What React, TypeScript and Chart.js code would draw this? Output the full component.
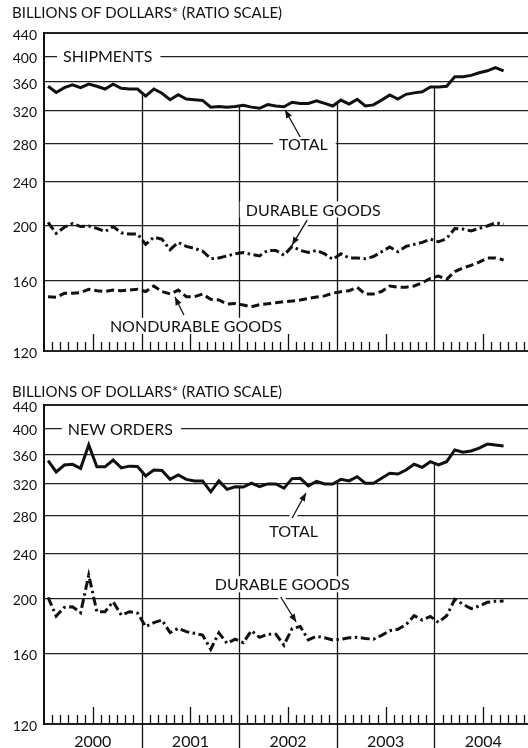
import React, { useEffect, useRef } from "react";
import { Chart, registerables } from "chart.js";

Chart.register(...registerables);

const FONT = "Lato, 'DejaVu Sans', sans-serif";
const INK = "#111";

const YEARS = ["2000", "2001", "2002", "2003", "2004"];
const Y_TICKS = [120, 160, 200, 240, 280, 320, 360, 400, 440];
const Y_MIN = 120;
const Y_MAX = 440;
const X_MAX = 59.5; // months since Jan 2000 shown on the axis
const TITLE = "BILLIONS OF DOLLARS* (RATIO SCALE)";

// Monthly values, Jan 2000 - Sep 2004 (billions of dollars)
const shipTotal = [
  354, 345, 352, 356, 352, 357, 354, 350, 357, 351, 350, 350,
  340, 350, 344, 335, 342, 336, 335, 334, 325, 326, 325, 326,
  327.5, 325, 323.5, 328.5, 326.5, 325.5, 331.5, 330, 330, 333.5, 330, 326.5,
  334.5, 329, 335.5, 326.5, 328, 334.5, 341.5, 336, 342.5, 344.5, 346, 353,
  353, 354, 368, 368, 370, 374, 377, 382, 377,
];
const shipDurable = [
  203, 194, 199, 202, 199.5, 200, 198, 195.5, 199.5, 194.5, 193.5, 193.5,
  185.5, 191, 189.5, 181.5, 187, 184, 182.5, 180.5, 175, 175.5, 177, 178.5,
  179.5, 178, 177, 181, 181, 177.5, 184, 181, 179.5, 181, 178.5, 174.5,
  178.5, 175.5, 175.5, 175, 176.5, 180, 183.5, 180, 184, 185.5, 187, 189.5,
  187.5, 190, 198, 197.5, 196, 198, 200, 202.5, 201.5,
];
const shipNondurable = [
  149.8, 149.4, 151.9, 152, 152.3, 154.4, 153.5, 153, 153.9, 153.5, 153.9, 154.4,
  153, 156.5, 153, 151.5, 153.9, 149.8, 149.8, 151.4, 148.2, 147.8, 145.4, 145.7,
  144.8, 143.8, 145, 145.5, 146.2, 146.8, 147.2, 147.8, 148.7, 149.6, 150.3, 152,
  152.9, 153.5, 155.7, 151.4, 151.5, 153, 156.5, 155.7, 155.7, 156.5, 158.5, 161.5,
  163, 160.8, 166, 168.5, 170.3, 172.5, 175.5, 175.5, 174,
];
const ordersTotal = [
  350.7, 335, 344.6, 345.6, 340, 374, 342, 342, 351.7, 340.5, 343, 342.5,
  329.5, 337.6, 337, 325, 330.8, 325, 323, 323, 309, 323, 312, 315.4,
  315, 320, 315.4, 319, 319, 313.5, 326, 326.4, 316.5, 322.5, 319, 319,
  325, 323, 328.6, 320, 320, 326.4, 333.2, 332.2, 337.6, 345.6, 341.4, 349.3,
  344.6, 349.3, 366.3, 363, 364.8, 369, 375.3, 374, 372.3,
];
const ordersDurable = [
  201, 186.3, 193, 193.5, 188.8, 220, 189.6, 189.6, 197.5, 187, 189.6, 188.5,
  178.4, 181.3, 183.3, 174.1, 177.2, 174.8, 173.6, 172.4, 162.7, 174, 166.7, 169.5,
  167.1, 175.5, 170.8, 173, 173, 165.5, 177, 178.5, 169, 171.5, 170.5, 169,
  169.5, 170.5, 170.8, 170, 169.5, 172.2, 175.5, 176.5, 179.8, 186.5, 183.3, 186,
  181.5, 186.5, 199.4, 195.5, 192, 194, 197, 197.8, 198,
];

const DASH_DOT = [9, 3.5, 2.5, 3.5];
const DASHED = [8, 4];

type Label = { text: string; x: number; y: number };
type Arrow = { from: [number, number]; to: [number, number] };
type Panel = {
  id: string;
  height: number;
  padTop: number;
  padBottom: number;
  titleBaseline: number;
  yearAxis: boolean;
  series: { values: number[]; dash: number[] }[];
  labels: Label[];
  arrows: Arrow[];
};

const TOP_PANEL: Panel = {
  id: "ship",
  height: 370,
  padTop: 33,
  padBottom: 19,
  titleBaseline: 18,
  yearAxis: false,
  series: [
    { values: shipTotal, dash: [] },
    { values: shipDurable, dash: DASH_DOT },
    { values: shipNondurable, dash: DASHED },
  ],
  labels: [
    { text: "SHIPMENTS", x: 2.34, y: 400 },
    { text: "TOTAL", x: 28.9, y: 280 },
    { text: "DURABLE GOODS", x: 24.8, y: 214 },
    { text: "NONDURABLE GOODS", x: 8.1, y: 133 },
  ],
  arrows: [
    { from: [31.5, 287.7], to: [29.64, 321.2] },
    { from: [32.35, 204.9], to: [30.5, 185] },
    { from: [17.2, 139], to: [16.1, 149.6] },
  ],
};

const BOTTOM_PANEL: Panel = {
  id: "orders",
  height: 378,
  padTop: 35,
  padBottom: 24,
  titleBaseline: 27,
  yearAxis: true,
  series: [
    { values: ordersTotal, dash: [] },
    { values: ordersDurable, dash: DASH_DOT },
  ],
  labels: [
    { text: "NEW ORDERS", x: 2.93, y: 400 },
    { text: "TOTAL", x: 27.7, y: 263.4 },
    { text: "DURABLE GOODS", x: 21.0, y: 212 },
  ],
  arrows: [
    { from: [30.5, 277.7], to: [32.2, 307.5] },
    { from: [29.1, 201.3], to: [31.0, 181.8] },
  ],
};

function overlayPlugin(panel: Panel) {
  return {
    id: "overlay_" + panel.id,
    beforeDatasetsDraw(chart: any) {
      const { ctx, chartArea: a } = chart;
      const xs = chart.scales.x;
      const ys = chart.scales.y;
      const pts = chart.getDatasetMeta(0).data;
      ctx.save();
      ctx.strokeStyle = INK;
      ctx.lineWidth = 1.3;
      // year separators: from the total line down to the axis
      for (let k = 1; k < YEARS.length; k++) {
        const m = 12 * k;
        const px = Math.round(xs.getPixelForValue(m)) + 0.5;
        const p0 = pts[m - 1];
        const p1 = pts[m];
        const t = (px - p0.x) / (p1.x - p0.x);
        const py = p0.y + t * (p1.y - p0.y);
        ctx.beginPath();
        ctx.moveTo(px, py);
        ctx.lineTo(px, panel.yearAxis ? chart.height : a.bottom);
        ctx.stroke();
      }
      // month ticks
      for (let m = 1; m < X_MAX; m++) {
        if (m % 12 === 0) continue;
        const px = Math.round(xs.getPixelForValue(m)) + 0.5;
        const len = m % 6 === 0 ? 17 : 9;
        ctx.beginPath();
        ctx.moveTo(px, a.bottom);
        ctx.lineTo(px, a.bottom - len);
        ctx.stroke();
      }
      // labels with white backing that breaks the grid lines
      ctx.font = `16px ${FONT}`;
      ctx.textBaseline = "middle";
      ctx.textAlign = "left";
      for (const L of panel.labels) {
        const lx = xs.getPixelForValue(L.x);
        const ly = ys.getPixelForValue(L.y);
        const w = ctx.measureText(L.text).width;
        ctx.fillStyle = "#fff";
        ctx.fillRect(lx - 6, ly - 8, w + 14, 16);
        ctx.fillStyle = INK;
        ctx.fillText(L.text, lx, ly + 1);
      }
      // arrows
      for (const A of panel.arrows) {
        const x0 = xs.getPixelForValue(A.from[0]);
        const y0 = ys.getPixelForValue(A.from[1]);
        const x1 = xs.getPixelForValue(A.to[0]);
        const y1 = ys.getPixelForValue(A.to[1]);
        const ang = Math.atan2(y1 - y0, x1 - x0);
        const bx = x1 - Math.cos(ang) * 4;
        const by = y1 - Math.sin(ang) * 4;
        ctx.strokeStyle = "#fff";
        ctx.lineWidth = 7;
        ctx.beginPath();
        ctx.moveTo(x0, y0);
        ctx.lineTo(bx, by);
        ctx.stroke();
        ctx.strokeStyle = INK;
        ctx.lineWidth = 1.3;
        ctx.beginPath();
        ctx.moveTo(x0, y0);
        ctx.lineTo(x1, y1);
        ctx.stroke();
        const hl = 8;
        const hw = 3.2;
        const hx = x1 - Math.cos(ang) * hl;
        const hy = y1 - Math.sin(ang) * hl;
        ctx.fillStyle = INK;
        ctx.beginPath();
        ctx.moveTo(x1, y1);
        ctx.lineTo(hx + Math.sin(ang) * hw, hy - Math.cos(ang) * hw);
        ctx.lineTo(hx - Math.sin(ang) * hw, hy + Math.cos(ang) * hw);
        ctx.closePath();
        ctx.fill();
      }
      ctx.restore();
    },
    afterDraw(chart: any) {
      const { ctx } = chart;
      const xs = chart.scales.x;
      ctx.save();
      ctx.fillStyle = INK;
      ctx.textBaseline = "alphabetic";
      ctx.textAlign = "left";
      ctx.font = `15px ${FONT}`;
      ctx.fillText(TITLE, 12, panel.titleBaseline);
      if (panel.yearAxis) {
        ctx.font = `16px ${FONT}`;
        ctx.textAlign = "center";
        YEARS.forEach((yr, k) => {
          ctx.fillText(yr, xs.getPixelForValue(12 * k + 6), chart.height - 1.5);
        });
      }
      ctx.restore();
    },
  };
}

function makeConfig(panel: Panel): any {
  return {
    type: "line",
    data: {
      datasets: panel.series.map((s) => ({
        data: s.values.map((v, i) => ({ x: i + 0.5, y: v })),
        borderColor: INK,
        borderWidth: 3,
        borderDash: s.dash,
        borderCapStyle: "butt",
        borderJoinStyle: "miter",
        pointRadius: 0,
        tension: 0,
        fill: false,
      })),
    },
    options: {
      animation: false,
      responsive: false,
      maintainAspectRatio: false,
      layout: { padding: { top: panel.padTop, bottom: panel.padBottom, left: 0, right: 0 } },
      plugins: { legend: { display: false }, tooltip: { enabled: false }, title: { display: false } },
      scales: {
        x: { type: "linear", min: 0, max: X_MAX, display: false },
        y: {
          type: "logarithmic",
          min: Y_MIN,
          max: Y_MAX,
          afterBuildTicks: (s: any) => {
            s.ticks = Y_TICKS.map((v) => ({ value: v }));
          },
          afterFit: (s: any) => {
            s.width = 44;
          },
          grid: {
            color: "#222",
            lineWidth: (c: any) =>
              c.tick && (c.tick.value === Y_MAX || c.tick.value === Y_MIN) ? 2 : 1.3,
            drawTicks: false,
          },
          border: { display: true, color: INK, width: 2 },
          ticks: {
            color: INK,
            font: { family: FONT, size: 14 },
            padding: 7,
            labelOffset: 2,
            autoSkip: false,
            callback: (v: any) => String(v),
          },
        },
      },
    },
    plugins: [overlayPlugin(panel)],
  };
}

export default function App() {
  const topRef = useRef<HTMLCanvasElement>(null);
  const botRef = useRef<HTMLCanvasElement>(null);
  useEffect(() => {
    const c1 = new Chart(topRef.current as HTMLCanvasElement, makeConfig(TOP_PANEL));
    const c2 = new Chart(botRef.current as HTMLCanvasElement, makeConfig(BOTTOM_PANEL));
    return () => {
      c1.destroy();
      c2.destroy();
    };
  }, []);
  return (
    <div style={{ position: "absolute", left: 0, top: 0, width: 528, height: 748, background: "#fff" }}>
      <canvas ref={topRef} width={528} height={TOP_PANEL.height} style={{ display: "block", width: 528, height: TOP_PANEL.height }} />
      <canvas ref={botRef} width={528} height={BOTTOM_PANEL.height} style={{ display: "block", width: 528, height: BOTTOM_PANEL.height }} />
    </div>
  );
}
